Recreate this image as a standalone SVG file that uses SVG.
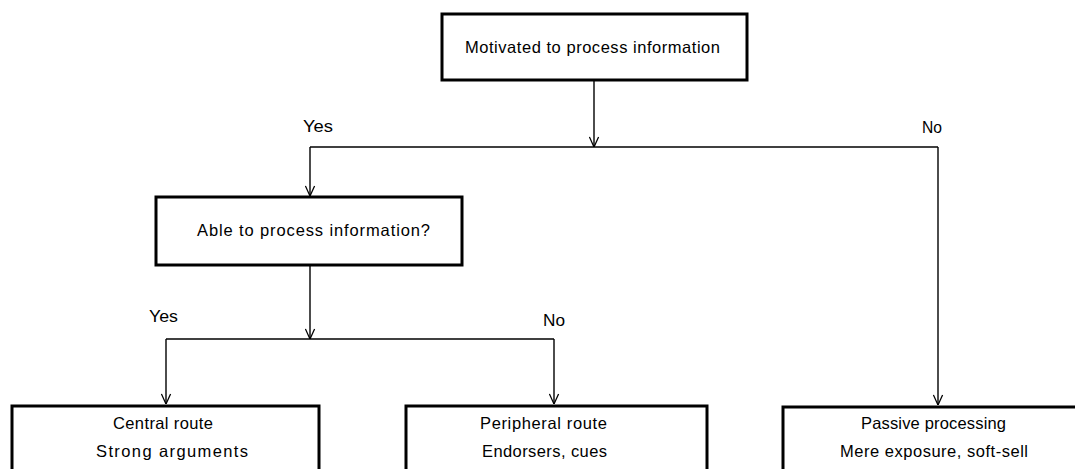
<svg xmlns="http://www.w3.org/2000/svg" width="1075" height="469" viewBox="0 0 1075 469">
  <defs>
    <style>
      .box { fill: #ffffff; stroke: #000000; stroke-width: 3; }
      .conn { fill: none; stroke: #000000; stroke-width: 1.4; }
      text { font-family: "Liberation Sans", Arial, sans-serif; font-size: 16.5px; fill: #000000; }
    </style>
    <marker id="arrow" viewBox="0 0 12 12" refX="12" refY="6" markerWidth="11" markerHeight="11" markerUnits="userSpaceOnUse" orient="auto">
      <polyline points="1,1 12,6 1,11" fill="none" stroke="#000000" stroke-width="1.4"/>
    </marker>
  </defs>
  <rect width="1075" height="469" fill="#ffffff"/>

  <!-- connectors -->
  <g id="connectors">
    <line class="conn" x1="594" y1="80" x2="594" y2="147" marker-end="url(#arrow)"/>
    <polyline class="conn" points="310,147 938,147"/>
    <line class="conn" x1="310" y1="147" x2="310" y2="196" marker-end="url(#arrow)"/>
    <line class="conn" x1="938" y1="147" x2="938" y2="405" marker-end="url(#arrow)"/>
    <line class="conn" x1="310" y1="265" x2="310" y2="339" marker-end="url(#arrow)"/>
    <polyline class="conn" points="166,339 554,339"/>
    <line class="conn" x1="166" y1="339" x2="166" y2="404" marker-end="url(#arrow)"/>
    <line class="conn" x1="554" y1="339" x2="554" y2="404" marker-end="url(#arrow)"/>
    <text x="303" y="132" textLength="30" lengthAdjust="spacingAndGlyphs">Yes</text>
    <text x="922" y="133" textLength="20" lengthAdjust="spacingAndGlyphs">No</text>
    <text x="149" y="322" textLength="29" lengthAdjust="spacingAndGlyphs">Yes</text>
    <text x="543" y="326" textLength="22" lengthAdjust="spacingAndGlyphs">No</text>
  </g>

  <g id="motivated">
    <rect class="box" x="442" y="14" width="305" height="66"/>
    <text x="465" y="53" textLength="255" lengthAdjust="spacing">Motivated to process information</text>
  </g>

  <g id="able">
    <rect class="box" x="156" y="197" width="306" height="68"/>
    <text x="197" y="236" textLength="233" lengthAdjust="spacing">Able to process information?</text>
  </g>

  <g id="central">
    <rect class="box" x="12" y="406" width="307" height="100"/>
    <text x="113" y="429" textLength="100" lengthAdjust="spacing">Central route</text>
    <text x="96" y="457" textLength="152" lengthAdjust="spacing">Strong arguments</text>
  </g>

  <g id="peripheral">
    <rect class="box" x="406" y="406" width="301" height="100"/>
    <text x="480" y="429" textLength="127" lengthAdjust="spacing">Peripheral route</text>
    <text x="482" y="457" textLength="125" lengthAdjust="spacing">Endorsers, cues</text>
  </g>

  <g id="passive">
    <rect class="box" x="783" y="407" width="320" height="100"/>
    <text x="861" y="429" textLength="145" lengthAdjust="spacing">Passive processing</text>
    <text x="840" y="457" textLength="188" lengthAdjust="spacing">Mere exposure, soft-sell</text>
  </g>
</svg>
